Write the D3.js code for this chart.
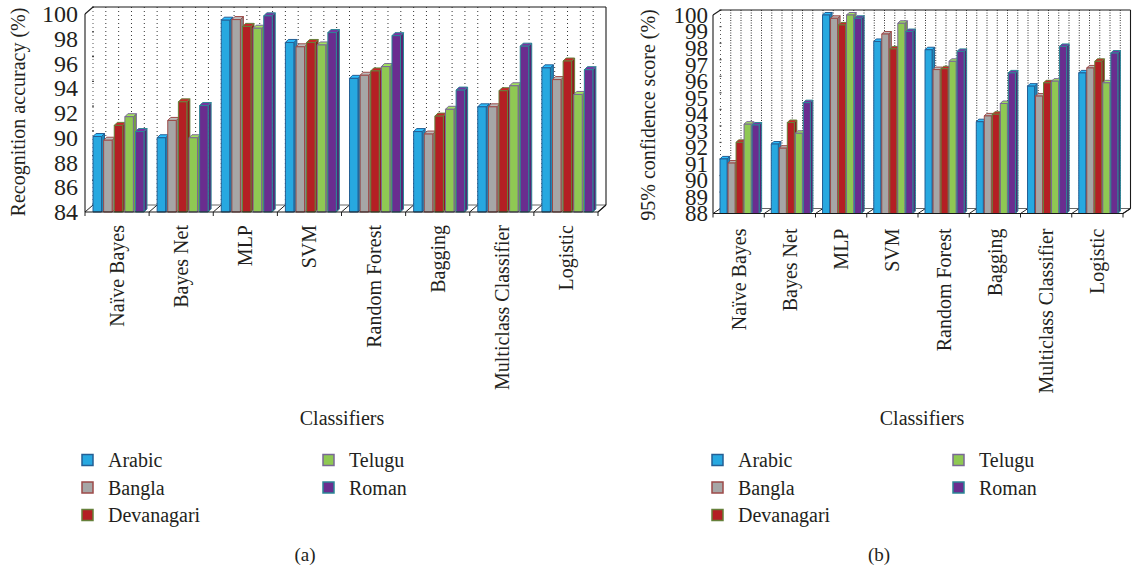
<!DOCTYPE html>
<html>
<head>
<meta charset="utf-8">
<script src="https://cdn.jsdelivr.net/npm/d3@7"></script>
<style>
  body { margin: 0; background: #fff; }
  svg { display: block; }
  text { font-family: "Liberation Serif", "DejaVu Serif", serif; fill: #231f20; }
</style>
</head>
<body>
<svg id="fig" width="1134" height="571"></svg>
<script>
// Classifiers on the x axis, one bar per script in every group
const categories = ["Naïve Bayes", "Bayes Net", "MLP", "SVM", "Random Forest", "Bagging", "Multiclass Classifier", "Logistic"];
const seriesNames = ["Arabic", "Bangla", "Devanagari", "Telugu", "Roman"];

// (a) recognition accuracy (%)
const accuracyArabic     = [90.1, 90.0, 99.5, 97.7, 94.8, 90.5, 92.5, 95.65];
const accuracyBangla     = [89.8, 91.4, 99.55, 97.35, 95.05, 90.3, 92.5, 94.7];
const accuracyDevanagari = [91.0, 92.9, 99.0, 97.7, 95.4, 91.75, 93.8, 96.2];
const accuracyTelugu     = [91.7, 90.0, 98.85, 97.5, 95.75, 92.3, 94.2, 93.5];
const accuracyRoman      = [90.5, 92.6, 99.85, 98.5, 98.25, 93.85, 97.4, 95.5];
const accuracyTicks = [84, 86, 88, 90, 92, 94, 96, 98, 100];

// (b) 95% confidence score (%)
const confidenceArabic     = [91.3, 92.2, 100.0, 98.4, 97.9, 93.55, 95.7, 96.5];
const confidenceBangla     = [91.05, 91.95, 99.8, 98.85, 96.7, 93.9, 95.1, 96.8];
const confidenceDevanagari = [92.3, 93.5, 99.4, 97.95, 96.75, 94.0, 95.9, 97.2];
const confidenceTelugu     = [93.4, 92.85, 100.0, 99.5, 97.2, 94.65, 96.0, 95.9];
const confidenceRoman      = [93.35, 94.7, 99.8, 99.0, 97.8, 96.5, 98.1, 97.7];
const confidenceTicks = [88, 89, 90, 91, 92, 93, 94, 95, 96, 97, 98, 99, 100];

const xTitle = "Classifiers";
const panelTags = ["(a)", "(b)"];
const yTitles = ["Recognition accuracy (%)", "95% confidence score (%)"];

// fill and outline of each script's bars
const seriesFill   = { Arabic: "#27a8e0", Bangla: "#a6a6a6", Devanagari: "#b41f24", Telugu: "#8fc853", Roman: "#6a2d8f" };
const seriesStroke = { Arabic: "#245f95", Bangla: "#9c4a48", Devanagari: "#66803a", Telugu: "#7a6896", Roman: "#2b8796" };

const svg = d3.select("#fig");

function drawPanel(cfg) {
  const g = svg.append("g");
  const rows = seriesNames.map((s, i) => ({ name: s, values: cfg.values[i] }));

  const x0 = d3.scaleBand().domain(categories).range([cfg.left, cfg.right]);
  const gw = x0.bandwidth();
  const x1 = d3.scaleBand().domain(seriesNames)
    .range([gw * cfg.barStart, gw * cfg.barEnd]).paddingInner(cfg.barGap);
  const y = d3.scaleLinear().domain(d3.extent(cfg.ticks)).range([cfg.bottom, cfg.top]);
  const dx = cfg.depth[0], dy = cfg.depth[1];
  const y0 = y.range()[0];

  // back wall
  g.append("rect")
    .attr("x", cfg.left + dx).attr("y", cfg.top + dy)
    .attr("width", cfg.right - cfg.left).attr("height", cfg.bottom - cfg.top)
    .attr("fill", "#fff");

  // dotted vertical grid on the back wall
  const nGrid = categories.length * 5;
  const gridX = d3.range(1, nGrid).map(k => cfg.left + dx + k * (cfg.right - cfg.left) / nGrid);
  g.append("g").selectAll("line").data(gridX).join("line")
    .attr("x1", d => d).attr("x2", d => d)
    .attr("y1", cfg.top + dy).attr("y2", cfg.bottom + dy)
    .attr("stroke", "#333").attr("stroke-width", 1)
    .attr("stroke-dasharray", cfg.gridDash);

  // dotted back-left edge with a dot per tick
  g.append("line")
    .attr("x1", cfg.left + dx).attr("x2", cfg.left + dx)
    .attr("y1", cfg.top + dy).attr("y2", cfg.bottom + dy)
    .attr("stroke", "#555").attr("stroke-dasharray", "1,3");
  g.append("g").selectAll("rect").data(cfg.ticks).join("rect")
    .attr("x", cfg.left + dx - 1).attr("y", d => y(d) + dy - 0.5)
    .attr("width", 2).attr("height", 1.2).attr("fill", "#444");

  // back floor edge
  g.append("line")
    .attr("x1", cfg.left + dx).attr("x2", cfg.right + dx)
    .attr("y1", cfg.bottom + dy).attr("y2", cfg.bottom + dy)
    .attr("stroke", "#666").attr("stroke-width", 1);

  // floor separators between groups
  const sepX = categories.map(c => x0(c)).concat([cfg.right]);
  g.append("g").selectAll("path").data(sepX).join("path")
    .attr("d", d => `M${d},${cfg.bottom + 4}L${d},${cfg.bottom}L${d + dx},${cfg.bottom + dy}`)
    .attr("fill", "none").attr("stroke", "#222").attr("stroke-width", 1);

  // 3D bars
  const bd = cfg.barDepth;
  const groups = g.append("g").selectAll("g").data(categories).join("g")
    .attr("transform", c => `translate(${x0(c)},0)`);
  groups.each(function (c, ci) {
    const gg = d3.select(this);
    rows.forEach(r => {
      const v = r.values[ci];
      const bx = x1(r.name), bw = x1.bandwidth(), yt = y(v);
      const fill = seriesFill[r.name], stroke = seriesStroke[r.name];
      const b = gg.append("g").attr("stroke", stroke).attr("stroke-width", 1).attr("stroke-linejoin", "round");
      b.append("path")
        .attr("d", `M${bx + bw},${yt}L${bx + bw + bd},${yt - bd}L${bx + bw + bd},${y0 - bd}L${bx + bw},${y0}Z`)
        .attr("fill", d3.color(fill).darker(0.6));
      b.append("path")
        .attr("d", `M${bx},${yt}L${bx + bd},${yt - bd}L${bx + bw + bd},${yt - bd}L${bx + bw},${yt}Z`)
        .attr("fill", d3.color(fill).brighter(0.35));
      b.append("rect")
        .attr("x", bx).attr("y", yt).attr("width", bw).attr("height", y0 - yt)
        .attr("fill", fill);
    });
  });

  // frame of the box
  const frame = [
    [cfg.left, cfg.bottom, cfg.left, cfg.top],
    [cfg.left, cfg.top, cfg.left + dx, cfg.top + dy],
    [cfg.left + dx, cfg.top + dy, cfg.right + dx, cfg.top + dy],
    [cfg.right + dx, cfg.top + dy, cfg.right + dx, cfg.bottom + dy],
    [cfg.right + dx, cfg.bottom + dy, cfg.right, cfg.bottom],
    [cfg.left, cfg.bottom, cfg.right, cfg.bottom]
  ];
  g.append("g").selectAll("line").data(frame).join("line")
    .attr("x1", d => d[0]).attr("y1", d => d[1]).attr("x2", d => d[2]).attr("y2", d => d[3])
    .attr("stroke", "#1a1a1a").attr("stroke-width", 1.1);

  // y axis labels
  const ya = g.append("g").attr("transform", `translate(${cfg.left},0)`)
    .call(d3.axisLeft(y).tickValues(cfg.ticks).tickSize(0).tickPadding(cfg.tickPad).tickFormat(d3.format("d")));
  ya.select(".domain").remove();
  ya.selectAll("text").style("font-size", cfg.tickFont + "px")
    .style("font-family", '"Liberation Serif", serif').attr("fill", "#231f20");

  // category labels, rotated
  const xa = g.append("g").attr("transform", `translate(0,${cfg.bottom})`)
    .call(d3.axisBottom(x0).tickSize(0).tickPadding(0));
  xa.select(".domain").remove();
  xa.selectAll("text")
    .attr("transform", `translate(0,${cfg.catGap}) rotate(-90)`)
    .attr("dy", "0.35em").attr("x", 0).attr("y", 0)
    .style("text-anchor", "end").style("font-size", "20px")
    .style("font-family", '"Liberation Serif", serif').attr("fill", "#231f20");

  // axis titles
  g.append("text")
    .attr("transform", `translate(${cfg.yTitleX},${cfg.yTitleY}) rotate(-90)`)
    .attr("text-anchor", "middle").attr("dy", "0.35em")
    .style("font-size", "20px").text(cfg.yTitle);
  g.append("text")
    .attr("x", cfg.xTitleX).attr("y", 418).attr("dy", "0.35em")
    .attr("text-anchor", "middle").style("font-size", "20px").text(xTitle);

  // legend in two columns
  const legendPos = seriesNames.map((s, i) => ({
    name: s,
    x: cfg.legendX + (i < 3 ? 0 : 241),
    y: 460 + (i < 3 ? i : i - 3) * 27.5
  }));
  const lg = g.append("g").selectAll("g").data(legendPos).join("g")
    .attr("transform", d => `translate(${d.x},${d.y})`);
  lg.append("rect").attr("x", 0).attr("y", -5.5).attr("width", 11).attr("height", 11)
    .attr("fill", d => seriesFill[d.name]).attr("stroke", d => seriesStroke[d.name]).attr("stroke-width", 1.5);
  lg.append("text").attr("x", 26).attr("y", 0).attr("dy", "0.35em")
    .style("font-size", "20px").text(d => d.name);

  g.append("text").attr("x", cfg.tagX).attr("y", 554).attr("dy", "0.35em")
    .attr("text-anchor", "middle").style("font-size", "19px").text(cfg.tag);
}

drawPanel({
  values: [accuracyArabic, accuracyBangla, accuracyDevanagari, accuracyTelugu, accuracyRoman],
  ticks: accuracyTicks,
  left: 85, right: 598, top: 14, bottom: 212,
  depth: [8, -7], barDepth: 3,
  barStart: 0.125, barEnd: 0.92, barGap: 0.2,
  gridDash: "1,3",
  tickPad: 7, tickFont: 24,
  catGap: 13,
  yTitle: yTitles[0], yTitleX: 18, yTitleY: 112,
  xTitleX: 342,
  legendX: 82, tagX: 305, tag: panelTags[0]
});

drawPanel({
  values: [confidenceArabic, confidenceBangla, confidenceDevanagari, confidenceTelugu, confidenceRoman],
  ticks: confidenceTicks,
  left: 713, right: 1123, top: 15, bottom: 213.5,
  depth: [7.5, -5], barDepth: 2.5,
  barStart: 0.137, barEnd: 0.9, barGap: 0.12,
  gridDash: "1,1.5",
  tickPad: 5, tickFont: 23,
  catGap: 15,
  yTitle: yTitles[1], yTitleX: 648, yTitleY: 115,
  xTitleX: 922,
  legendX: 712, tagX: 879, tag: panelTags[1]
});
</script>
</body>
</html>
